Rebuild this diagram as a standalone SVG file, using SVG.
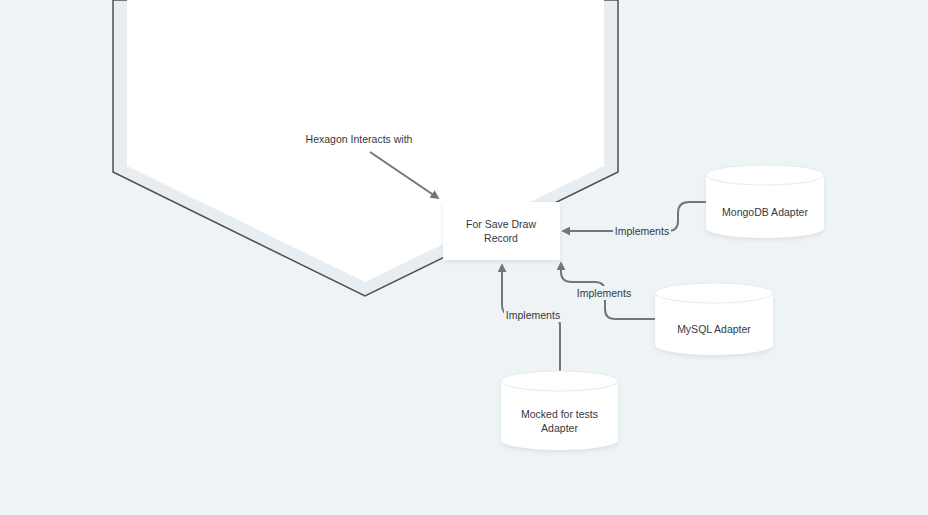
<svg xmlns="http://www.w3.org/2000/svg" width="928" height="515" viewBox="0 0 928 515">
<defs>
<style>
.t{font-family:"Liberation Sans",Arial,sans-serif;font-size:10.5px;fill:#33393f;text-anchor:middle}
.c{fill:none;stroke:#70767c;stroke-width:2}
.lb{fill:#eef3f6}
.cyl{fill:#ffffff;stroke:#e6ebef;stroke-width:1}
</style>
<marker id="ah" viewBox="0 0 10 10" refX="8" refY="5" markerWidth="4.5" markerHeight="4.5" orient="auto-start-reverse">
<path d="M0,0 L10,5 L0,10 z" fill="#70767c"/>
</marker>
<filter id="sh" x="-20%" y="-20%" width="140%" height="150%">
<feDropShadow dx="0" dy="2" stdDeviation="2" flood-color="#9aa5ae" flood-opacity="0.25"/>
</filter>
</defs>
<rect width="928" height="515" fill="#eef3f6"/>
<g id="hexagon">
<polygon points="113,0 113,172 365,296 618,172 618,0" fill="#e7edf1" stroke="#4b5158" stroke-width="1.5"/>
<polygon points="127,0 127,166 365,282 604,166 604,0" fill="#ffffff"/>
</g>
<g id="connectors">
<path class="c" d="M370,152 L438,198" marker-end="url(#ah)"/>
<path class="c" d="M706,202 H689 Q678,202 678,213 V221 Q678,231 668,231 H563" marker-end="url(#ah)"/>
<path class="c" d="M655,319 H615 Q605,319 605,309 V292 Q605,282 595,282 H572 Q561,282 561,272 V263" marker-end="url(#ah)"/>
<path class="c" d="M560,371 V325 Q560,315 550,315 H512 Q502,315 502,305 V265" marker-end="url(#ah)"/>
</g>
<g id="labels">
<rect class="lb" x="613" y="224" width="58" height="14"/>
<text class="t" x="642" y="235">Implements</text>
<rect class="lb" x="575" y="286" width="59" height="14"/>
<text class="t" x="604" y="297">Implements</text>
<rect class="lb" x="504" y="308" width="58" height="14"/>
<text class="t" x="533" y="319">Implements</text>
<text class="t" x="359" y="143">Hexagon Interacts with</text>
</g>
<g id="save-draw-record">
<rect x="443" y="202" width="117" height="58" fill="#ffffff" filter="url(#sh)"/>
<text class="t" x="501" y="228">For Save Draw</text>
<text class="t" x="501" y="242">Record</text>
</g>
<g id="mongodb-adapter">
<path d="M706,175 V228 A59,10 0 0 0 824,228 V175" fill="#ffffff" filter="url(#sh)"/>
<ellipse class="cyl" cx="765" cy="175" rx="59" ry="10"/>
<text class="t" x="765" y="216">MongoDB Adapter</text>
</g>
<g id="mysql-adapter">
<path d="M655,293 V345 A59,10 0 0 0 773,345 V293" fill="#ffffff" filter="url(#sh)"/>
<ellipse class="cyl" cx="714" cy="293" rx="59" ry="10"/>
<text class="t" x="714" y="333">MySQL Adapter</text>
</g>
<g id="mocked-adapter">
<path d="M501,381 V440 A58.5,10 0 0 0 618,440 V381" fill="#ffffff" filter="url(#sh)"/>
<ellipse class="cyl" cx="559.5" cy="381" rx="58.5" ry="10"/>
<text class="t" x="559.5" y="418">Mocked for tests</text>
<text class="t" x="559.5" y="432">Adapter</text>
</g>
</svg>
